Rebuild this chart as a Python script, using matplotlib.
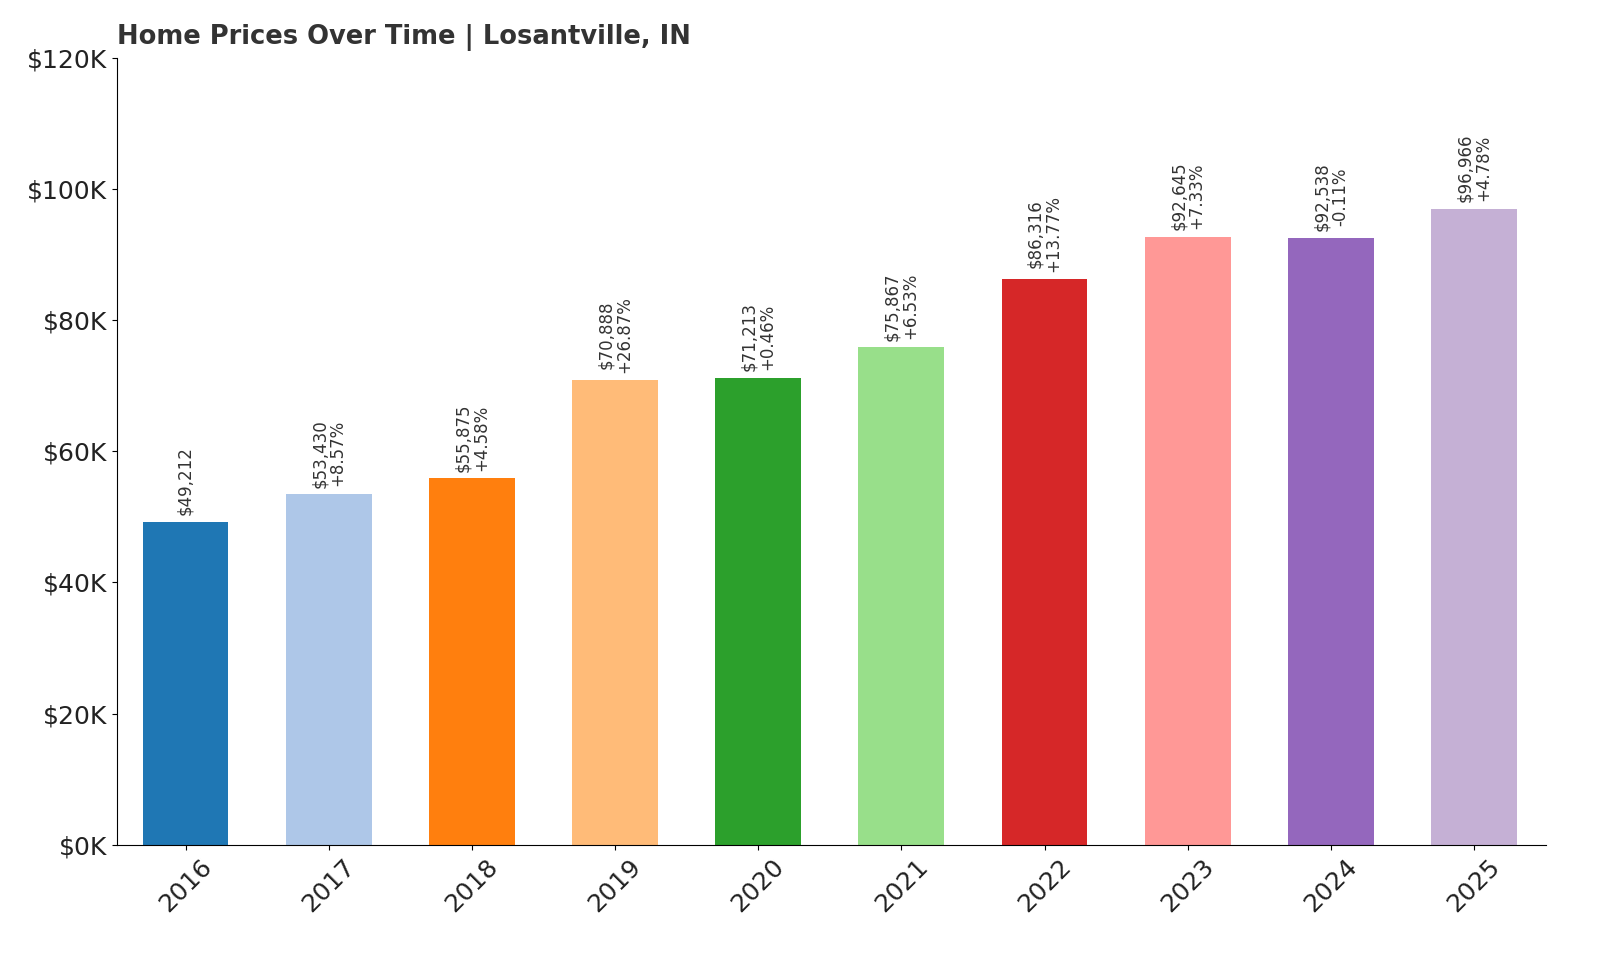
import matplotlib
matplotlib.use('Agg')
import matplotlib.pyplot as plt

years = ['2016', '2017', '2018', '2019', '2020', '2021', '2022', '2023', '2024', '2025']
prices = [49212, 53430, 55875, 70888, 71213, 75867, 86316, 92645, 92538, 96966]
changes = ['', '+8.57%', '+4.58%', '+26.87%', '+0.46%', '+6.53%', '+13.77%', '+7.33%', '-0.11%', '+4.78%']
colors = ['#1f77b4', '#aec7e8', '#ff7f0e', '#ffbb78', '#2ca02c',
          '#98df8a', '#d62728', '#ff9896', '#9467bd', '#c5b0d5']

fig = plt.figure(figsize=(16, 9.6), dpi=100)
ax = fig.add_axes([0.073, 0.12, 0.893, 0.82])
x = range(len(years))
ax.bar(x, prices, width=0.6, color=colors)
for i, p in enumerate(prices):
    label = f'${p:,}' if not changes[i] else f'${p:,}\n{changes[i]}'
    ax.text(i, p + 1000, label, rotation=90, ha='center', va='bottom',
            fontsize=12, color='#333333', linespacing=1.0)

ax.set_xlim(-0.48, 9.5)
ax.set_ylim(0, 120000)
ax.set_yticks(range(0, 120001, 20000))
ax.set_yticklabels([f'${v//1000}K' for v in range(0, 120001, 20000)], fontsize=18, color='#222222')
ax.set_xticks(list(x))
ax.set_xticklabels(years, rotation=45, fontsize=18, color='#222222')
ax.spines['top'].set_visible(False)
ax.spines['right'].set_visible(False)
ax.set_title('Home Prices Over Time | Losantville, IN', loc='left',
             fontsize=18.5, fontweight='bold', color='#333333', pad=10)
fig.savefig('out.png', dpi=100)
